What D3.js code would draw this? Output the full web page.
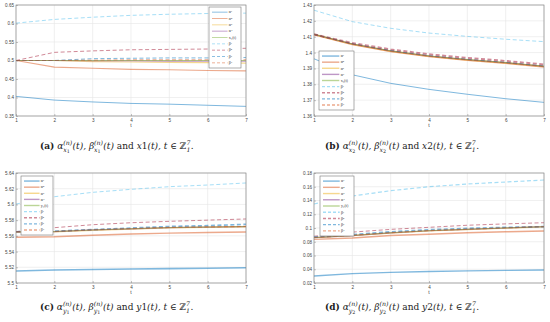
<!DOCTYPE html>
<html><head><meta charset="utf-8">
<script src="https://cdn.jsdelivr.net/npm/d3@7"></script>
<style>body{margin:0;background:#fff}svg{display:block}</style>
</head><body><svg id="c" width="550" height="322"></svg>
<script>
const tVals = [1,2,3,4,5,6,7];
const legendLabels = ["α¹","α²","α³","α⁴","STATE","β¹","β²","β³","β⁴"];
// Panel (a): x1
const a_alpha1 = [0.403,0.393,0.388,0.384,0.382,0.379,0.376];
const a_alpha2 = [0.500,0.482,0.479,0.476,0.475,0.473,0.472];
const a_alpha3 = [0.500,0.500,0.497,0.496,0.495,0.494,0.493];
const a_alpha4 = [0.500,0.500,0.499,0.499,0.498,0.498,0.498];
const a_state  = [0.500,0.500,0.500,0.500,0.500,0.500,0.500];
const a_beta1  = [0.601,0.611,0.617,0.622,0.625,0.627,0.628];
const a_beta2  = [0.500,0.522,0.526,0.529,0.530,0.531,0.533];
const a_beta3  = [0.500,0.500,0.505,0.506,0.507,0.507,0.508];
const a_beta4  = [0.500,0.500,0.501,0.502,0.502,0.502,0.502];
const a_ticks  = [0.35,0.4,0.45,0.5,0.55,0.6,0.65];
// Panel (b): x2
const b_alpha1 = [1.3961,1.3860,1.3806,1.3768,1.3737,1.3709,1.3686];
const b_alpha2 = [1.4113,1.4051,1.4007,1.3975,1.3952,1.3933,1.3910];
const b_alpha3 = [1.4115,1.4053,1.4009,1.3977,1.3954,1.3935,1.3912];
const b_alpha4 = [1.4115,1.4054,1.4010,1.3978,1.3955,1.3936,1.3913];
const b_state  = [1.4115,1.4055,1.4011,1.3979,1.3956,1.3937,1.3914];
const b_beta1  = [1.4267,1.4195,1.4153,1.4123,1.4102,1.4084,1.4069];
const b_beta2  = [1.4115,1.4060,1.4020,1.3989,1.3966,1.3947,1.3925];
const b_beta3  = [1.4115,1.4055,1.4012,1.3980,1.3957,1.3938,1.3915];
const b_beta4  = [1.4114,1.4053,1.4009,1.3977,1.3954,1.3935,1.3912];
const b_ticks  = [1.36,1.37,1.38,1.39,1.4,1.41,1.42,1.43];
// Panel (c): y1
const c_alpha1 = [5.5153,5.5165,5.5172,5.5178,5.5183,5.5187,5.5195];
const c_alpha2 = [5.5582,5.5588,5.5607,5.5624,5.5635,5.5643,5.5649];
const c_alpha3 = [5.5650,5.5652,5.5670,5.5688,5.5703,5.5710,5.5715];
const c_alpha4 = [5.5650,5.5655,5.5675,5.5690,5.5705,5.5712,5.5718];
const c_state  = [5.5650,5.5655,5.5675,5.5690,5.5705,5.5712,5.5718];
const c_beta1  = [5.6005,5.6098,5.6154,5.6192,5.6226,5.6247,5.6273];
const c_beta2  = [5.5653,5.5704,5.5742,5.5767,5.5785,5.5800,5.5815];
const c_beta3  = [5.5653,5.5660,5.5680,5.5700,5.5720,5.5730,5.5747];
const c_beta4  = [5.5650,5.5655,5.5677,5.5692,5.5707,5.5714,5.5720];
const c_ticks  = [5.5,5.52,5.54,5.56,5.58,5.6,5.62,5.64];
// Panel (d): y2
const d_alpha1 = [0.0302,0.0336,0.0355,0.0368,0.0377,0.0383,0.0389];
const d_alpha2 = [0.0835,0.0855,0.0890,0.0910,0.0930,0.0945,0.0956];
const d_alpha3 = [0.0860,0.0890,0.0928,0.0958,0.0978,0.0998,0.1017];
const d_alpha4 = [0.0860,0.0890,0.0930,0.0960,0.0980,0.1000,0.1019];
const d_state  = [0.0860,0.0891,0.0931,0.0961,0.0981,0.1001,0.1020];
const d_beta1  = [0.1349,0.1465,0.1543,0.1600,0.1640,0.1669,0.1698];
const d_beta2  = [0.0880,0.0940,0.0980,0.1010,0.1040,0.1060,0.1077];
const d_beta3  = [0.0870,0.0905,0.0945,0.0975,0.0995,0.1010,0.1020];
const d_beta4  = [0.0862,0.0892,0.0932,0.0962,0.0982,0.1002,0.1021];
const d_ticks  = [0.02,0.04,0.06,0.08,0.1,0.12,0.14,0.16,0.18];

const colors = ["#0072BD","#D95319","#EDB120","#7E2F8E","#77AC30","#4DBEEE","#A2142F","#0072BD","#D95319"];
const dashed = [false,false,false,false,false,true,true,true,true];

const svg = d3.select("#c");

function drawPanel(p){
  const x = d3.scaleLinear().domain([1,7]).range([p.x0,p.x1]);
  const y = d3.scaleLinear().domain(p.domain).range([p.y1,p.y0]);
  const g = svg.append("g");
  g.selectAll(".gx").data(tVals).join("line")
    .attr("x1",d=>x(d)).attr("x2",d=>x(d)).attr("y1",p.y0).attr("y2",p.y1)
    .attr("stroke","#e6e6e6").attr("stroke-width",0.6);
  g.selectAll(".gy").data(p.ticks).join("line")
    .attr("y1",d=>y(d)).attr("y2",d=>y(d)).attr("x1",p.x0).attr("x2",p.x1)
    .attr("stroke","#e6e6e6").attr("stroke-width",0.6);
  const ax = d3.axisBottom(x).tickValues(tVals).tickSize(-2).tickFormat(d3.format("d"));
  const gx = g.append("g").attr("transform",`translate(0,${p.y1})`).call(ax);
  const ay = d3.axisLeft(y).tickValues(p.ticks).tickSize(-2).tickFormat(d=>String(d));
  const gy = g.append("g").attr("transform",`translate(${p.x0},0)`).call(ay);
  [gx,gy].forEach(a=>{
    a.select(".domain").remove();
    a.selectAll("line").attr("stroke","#888").attr("stroke-width",0.5);
    a.selectAll("text").attr("font-family","Liberation Sans, Arial").attr("font-size",4.6).attr("fill","#444");
  });
  gx.selectAll("text").attr("dy","0.9em").attr("y",2);
  gy.selectAll("text").attr("x",-2);
  g.append("text").attr("x",(p.x0+p.x1)/2).attr("y",p.y1+11).attr("text-anchor","middle")
    .attr("font-family","Liberation Sans, Arial").attr("font-size",5).attr("fill","#444").text("t");
  const line = d3.line().x((d,i)=>x(tVals[i])).y(d=>y(d));
  const clip = "clip"+p.id;
  svg.append("clipPath").attr("id",clip).append("rect").attr("x",p.x0).attr("y",p.y0).attr("width",p.x1-p.x0).attr("height",p.y1-p.y0);
  const lg = g.append("g").attr("clip-path",`url(#${clip})`);
  p.series.forEach((s,i)=>{
    lg.append("path").attr("d",line(s)).attr("fill","none")
      .attr("stroke",colors[i]).attr("stroke-opacity",0.5)
      .attr("stroke-width",p.widths[i])
      .attr("stroke-dasharray",dashed[i]?"4,2.5":null);
  });
  g.append("rect").attr("x",p.x0).attr("y",p.y0).attr("width",p.x1-p.x0).attr("height",p.y1-p.y0)
    .attr("fill","none").attr("stroke","#8a8a8a").attr("stroke-width",0.7);
  const L = p.legend;
  const lgd = g.append("g");
  lgd.append("rect").attr("x",L.x).attr("y",L.y).attr("width",L.w).attr("height",L.h)
    .attr("fill","#fff").attr("stroke","#777").attr("stroke-width",0.6);
  const rh = (L.h-4)/9;
  legendLabels.forEach((lab,i)=>{
    const yy = L.y+2+rh*(i+0.5);
    lgd.append("line").attr("x1",L.x+3).attr("x2",L.x+L.w*0.58).attr("y1",yy).attr("y2",yy)
      .attr("stroke",colors[i]).attr("stroke-opacity",0.5).attr("stroke-width",p.legendWidth)
      .attr("stroke-dasharray",dashed[i]?"3,2":null);
    lgd.append("text").attr("x",L.x+L.w*0.62).attr("y",yy+1.3)
      .attr("font-family","Liberation Serif, serif").attr("font-size",4).attr("fill","#333")
      .text(lab==="STATE"?p.stateLabel:lab);
  });
}

drawPanel({id:"a",x0:16,x1:246,y0:5,y1:116,domain:[0.35,0.65],ticks:a_ticks,
  series:[a_alpha1,a_alpha2,a_alpha3,a_alpha4,a_state,a_beta1,a_beta2,a_beta3,a_beta4],
  widths:[1,1.2,1.2,1,1,1,1,1,1],legendWidth:0.9,
  legend:{x:209,y:7,w:32,h:61},stateLabel:"x₁(t)"});
drawPanel({id:"b",x0:314,x1:544,y0:5,y1:116,domain:[1.36,1.43],ticks:b_ticks,
  series:[b_alpha1,b_alpha2,b_alpha3,b_alpha4,b_state,b_beta1,b_beta2,b_beta3,b_beta4],
  widths:[1,1.6,1.6,1,1,1,2,1,1],legendWidth:1.4,
  legend:{x:319,y:51,w:35,h:59},stateLabel:"x₂(t)"});
drawPanel({id:"c",x0:16,x1:246,y0:173,y1:283,domain:[5.5,5.64],ticks:c_ticks,
  series:[c_alpha1,c_alpha2,c_alpha3,c_alpha4,c_state,c_beta1,c_beta2,c_beta3,c_beta4],
  widths:[1.6,1.4,1.4,1.2,1,1,1,1.6,1.2],legendWidth:1.4,
  legend:{x:21,y:176,w:32,h:59},stateLabel:"y₁(t)"});
drawPanel({id:"d",x0:314,x1:544,y0:173,y1:283,domain:[0.02,0.18],ticks:d_ticks,
  series:[d_alpha1,d_alpha2,d_alpha3,d_alpha4,d_state,d_beta1,d_beta2,d_beta3,d_beta4],
  widths:[1.4,1.4,1.4,1.2,1,1.2,1,1.6,1.2],legendWidth:1.4,
  legend:{x:320,y:176,w:34,h:60},stateLabel:"y₂(t)"});

const FF = "DejaVu Serif, serif";
const FS = 9, SS = 6.2, SSS = 4.8;
function caption(x0, yb, runs){
  let cx = x0;
  const cg = svg.append("g").attr("fill","#222");
  runs.forEach(r=>{
    if(r.stack){
      const sup = cg.append("text").attr("x",cx).attr("y",yb-4.2).attr("font-family",FF)
        .attr("font-size",SS).attr("font-style","italic").text(r.sup);
      const sub = cg.append("text").attr("x",cx).attr("y",yb+2.6).attr("font-family",FF)
        .attr("font-size",SS).attr("font-style","italic").text(r.sub[0]);
      let w2 = sub.node().getComputedTextLength();
      if(r.sub[1]){
        const subsub = cg.append("text").attr("x",cx+w2).attr("y",yb+4).attr("font-family",FF)
          .attr("font-size",SSS).text(r.sub[1]);
        w2 += subsub.node().getComputedTextLength();
      }
      cx += Math.max(sup.node().getComputedTextLength(), w2)+0.4;
    } else {
      const t = cg.append("text").attr("x",cx).attr("y",yb).attr("font-family",FF)
        .attr("font-size",FS).attr("font-weight",r.bold?"bold":null)
        .attr("font-style",r.it?"italic":null).style("white-space","pre").text(r.t);
      cx += t.node().getComputedTextLength();
    }
  });
}
function capRuns(letter, v, idx){
  return [
    {t:`(${letter})`,bold:true},{t:" α",it:true},{stack:true,sup:"(n)",sub:[v,idx]},{t:"(t), β",it:true},
    {stack:true,sup:"(n)",sub:[v,idx]},{t:"(t)",it:true},{t:" and "},{t:v,it:true},{t:idx},{t:"(t), t",it:true},
    {t:" ∈ ℤ"},{stack:true,sup:"7",sub:["1",null]},{t:"."}
  ];
}
caption(40,149,capRuns("a","x","1"));
caption(325,149,capRuns("b","x","2"));
caption(40,310,capRuns("c","y","1"));
caption(325,310,capRuns("d","y","2"));
</script></body></html>
